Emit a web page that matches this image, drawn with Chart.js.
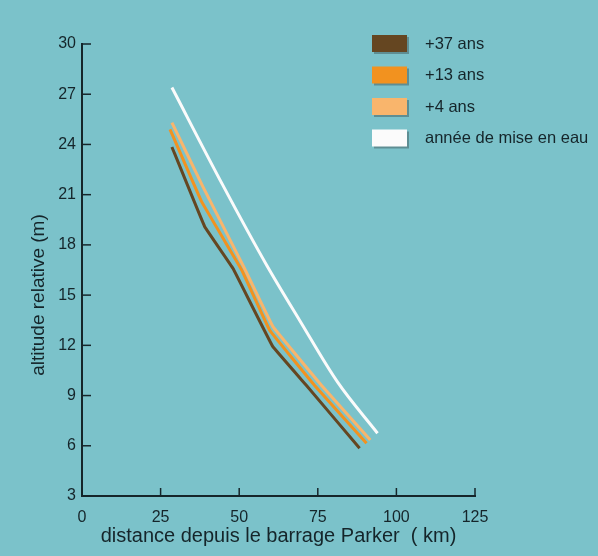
<!DOCTYPE html>
<html>
<head>
<meta charset="utf-8">
<script src="https://cdn.jsdelivr.net/npm/chart.js@4/dist/chart.umd.min.js"></script>
<style>
  html, body { margin: 0; padding: 0; background: #7bc2ca; }
  #wrap { width: 598px; height: 556px; }
</style>
</head>
<body>
<div id="wrap"><canvas id="c" width="598" height="556"></canvas></div>
<script>
// values (distance km / relative altitude m)
const seriesLabels = ["+37 ans", "+13 ans", "+4 ans", "année de mise en eau"];
const seriesColors = ["#654621", "#f2921f", "#f9b56c", "#fbfbfb"];

const km37 = [28.6, 39, 48, 60.6, 71.4, 88.3];
const alt37 = [23.85, 19.1, 16.6, 11.95, 9.6, 5.85];
const km13 = [28, 38, 50.8, 59.7, 74, 90.5];
const alt13 = [24.9, 20.6, 16.5, 12.9, 9.6, 6.15];
const km4 = [28.6, 38.4, 51.7, 60.8, 76.2, 91.7];
const alt4 = [25.3, 21.5, 16.6, 13.1, 9.6, 6.35];
const km0 = [28.6, 44.7, 58.7, 69.2, 81.3, 94];
const alt0 = [27.4, 21.6, 16.8, 13.5, 9.8, 6.75];

const xTicks = [0, 25, 50, 75, 100, 125];
const yTicks = [3, 6, 9, 12, 15, 18, 21, 24, 27, 30];

const xTitle = "distance depuis le barrage Parker  ( km)";
const yTitle = "altitude relative (m)";

const FONT = "'Liberation Sans', Arial, sans-serif";
const INK = "#15252a";

function pts(xs, ys) { return xs.map((x, i) => ({ x, y: ys[i] })); }

const allSeries = [pts(km37, alt37), pts(km13, alt13), pts(km4, alt4), pts(km0, alt0)];

const datasets = allSeries.map((data, i) => ({
  label: seriesLabels[i],
  data,
  borderColor: seriesColors[i],
  borderWidth: 3,
  pointRadius: 0,
  tension: 0.05,
  cubicInterpolationMode: i === 3 ? "monotone" : "default",
  fill: false,
  order: i === 3 ? 0 : 3 - i,
}));

// inward tick marks, rotated y title and boxed legend
const decor = {
  id: "decor",
  afterDraw(chart) {
    const { ctx, scales: { x, y } } = chart;
    const x0 = x.getPixelForValue(0);
    const y0 = y.getPixelForValue(3);
    ctx.save();
    ctx.strokeStyle = INK;
    ctx.lineWidth = 1.5;
    yTicks.forEach(v => {
      const py = y.getPixelForValue(v);
      ctx.beginPath(); ctx.moveTo(x0, py); ctx.lineTo(x0 + 9, py); ctx.stroke();
    });
    xTicks.forEach(v => {
      const px = x.getPixelForValue(v);
      ctx.beginPath(); ctx.moveTo(px, y0); ctx.lineTo(px, y0 - 8); ctx.stroke();
    });

    ctx.fillStyle = INK;
    ctx.font = "19px " + FONT;
    ctx.textAlign = "center";
    ctx.textBaseline = "middle";
    ctx.translate(39, 295);
    ctx.rotate(-Math.PI / 2);
    ctx.fillText(yTitle, 0, 0);
    ctx.restore();

    ctx.save();
    chart.data.datasets.forEach((ds, i) => {
      const top = 35 + i * 31.5;
      ctx.fillStyle = "rgba(60,80,80,0.45)";
      ctx.fillRect(374, top + 2, 35, 17);
      ctx.fillStyle = ds.borderColor;
      ctx.fillRect(372, top, 35, 17);
      ctx.fillStyle = INK;
      ctx.font = "16.5px " + FONT;
      ctx.textAlign = "left";
      ctx.textBaseline = "middle";
      ctx.fillText(ds.label, 425, top + 9);
    });
    ctx.restore();
  }
};

new Chart(document.getElementById("c"), {
  type: "line",
  data: { datasets },
  options: {
    responsive: false,
    animation: false,
    layout: { padding: { top: 44, right: 123, left: 0, bottom: 8 } },
    plugins: { legend: { display: false }, tooltip: { enabled: false } },
    scales: {
      x: {
        type: "linear",
        min: 0, max: 125,
        afterBuildTicks: s => { s.ticks = xTicks.map(v => ({ value: v })); },
        afterFit: s => { s.height = 52; },
        grid: { display: false, drawTicks: false },
        border: { display: true, color: INK, width: 2 },
        ticks: { color: INK, font: { family: FONT, size: 16 }, padding: 12 },
        title: { display: true, text: xTitle, color: INK, font: { family: FONT, size: 20 }, padding: 0 },
      },
      y: {
        type: "linear",
        min: 3, max: 30,
        afterBuildTicks: s => { s.ticks = yTicks.map(v => ({ value: v })); },
        afterFit: s => { s.width = 82; },
        grid: { display: false, drawTicks: false },
        border: { display: true, color: INK, width: 2 },
        ticks: { color: INK, font: { family: FONT, size: 16 }, padding: 6 },
      },
    },
  },
  plugins: [decor],
});
</script>
</body>
</html>
